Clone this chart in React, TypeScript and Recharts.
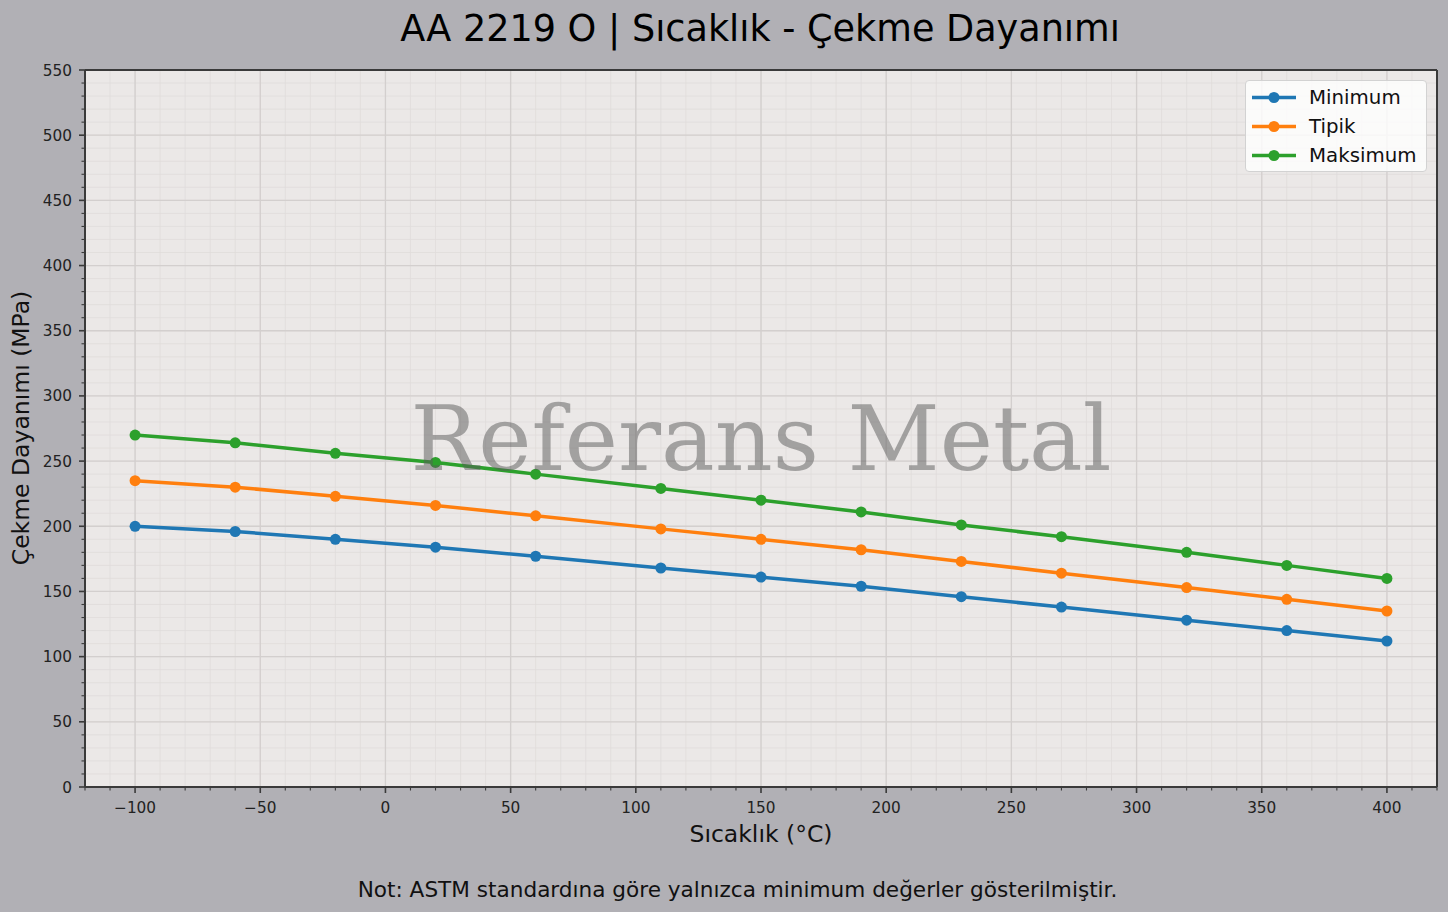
import React from 'react';
import { LineChart, Line, XAxis, YAxis, CartesianGrid, Legend } from 'recharts';

const temperatures = [-100, -60, -20, 20, 60, 110, 150, 190, 230, 270, 320, 360, 400];
const minimumValues = [200, 196, 190, 184, 177, 168, 161, 154, 146, 138, 128, 120, 112];
const typicalValues = [235, 230, 223, 216, 208, 198, 190, 182, 173, 164, 153, 144, 135];
const maximumValues = [270, 264, 256, 249, 240, 229, 220, 211, 201, 192, 180, 170, 160];

const xMajorTicks = [-100, -50, 0, 50, 100, 150, 200, 250, 300, 350, 400];
const xAllTicks = [-120, -110, -100, -90, -80, -70, -60, -50, -40, -30, -20, -10, 0, 10, 20, 30, 40, 50, 60, 70, 80, 90, 100, 110, 120, 130, 140, 150, 160, 170, 180, 190, 200, 210, 220, 230, 240, 250, 260, 270, 280, 290, 300, 310, 320, 330, 340, 350, 360, 370, 380, 390, 400, 410, 420];
const yMajorTicks = [0, 50, 100, 150, 200, 250, 300, 350, 400, 450, 500, 550];
const yAllTicks = [0, 10, 20, 30, 40, 50, 60, 70, 80, 90, 100, 110, 120, 130, 140, 150, 160, 170, 180, 190, 200, 210, 220, 230, 240, 250, 260, 270, 280, 290, 300, 310, 320, 330, 340, 350, 360, 370, 380, 390, 400, 410, 420, 430, 440, 450, 460, 470, 480, 490, 500, 510, 520, 530, 540, 550];

const seriesNames = ['Minimum', 'Tipik', 'Maksimum'];
const seriesColors = ['#1f77b4', '#ff7f0e', '#2ca02c'];

const data = temperatures.map((t, i) => ({
  t,
  min: minimumValues[i],
  typ: typicalValues[i],
  max: maximumValues[i],
}));

const FONT = '"DejaVu Sans", sans-serif';
const SPINE = '#3a3a3a';

const fmt = (v: number) => String(v).replace('-', '\u2212');

const XTick = (props: any) => {
  const { x, y, payload } = props;
  const v = payload.value;
  const major = v % 50 === 0;
  return (
    <g>
      <line x1={x} x2={x} y1={y} y2={y + (major ? 6 : 3.5)} stroke={SPINE} strokeWidth={major ? 1.6 : 1.1} />
      {major && (
        <text x={x} y={y + 25.5} textAnchor="middle" fontSize={15.3} fontFamily={FONT} fill="#222">
          {fmt(v)}
        </text>
      )}
    </g>
  );
};

const YTick = (props: any) => {
  const { x, y, payload } = props;
  const v = payload.value;
  const major = v % 50 === 0;
  return (
    <g>
      <line x1={x} x2={x - (major ? 6 : 3.5)} y1={y} y2={y} stroke={SPINE} strokeWidth={major ? 1.6 : 1.1} />
      {major && (
        <text x={x - 13} y={y + 5.5} textAnchor="end" fontSize={15.3} fontFamily={FONT} fill="#222">
          {fmt(v)}
        </text>
      )}
    </g>
  );
};

const LegendBox = (props: any) => {
  const payload = [...(props.payload || [])].sort(
    (a: any, b: any) => seriesNames.indexOf(a.value) - seriesNames.indexOf(b.value)
  );
  return (
    <div
      style={{
        width: 182,
        height: 92,
        boxSizing: 'border-box',
        padding: '2px 0',
        background: 'rgba(255,255,255,0.8)',
        border: '1px solid #d2d2d2',
        borderRadius: 4,
        fontFamily: FONT,
        fontSize: 19.8,
        color: '#111',
      }}
    >
      {payload.map((p: any) => (
        <div key={p.value} style={{ position: 'relative', height: 29 }}>
          <svg width={50} height={29} style={{ position: 'absolute', left: 5, top: 0 }}>
            <line x1={1} x2={45} y1={14.5} y2={14.5} stroke={p.color} strokeWidth={3.5} />
            <circle cx={23} cy={14.5} r={5.5} fill={p.color} />
          </svg>
          <span style={{ position: 'absolute', left: 63, top: 0, lineHeight: '29px', whiteSpace: 'nowrap' }}>{p.value}</span>
        </div>
      ))}
    </div>
  );
};

export default function App() {
  return (
    <div style={{ position: 'fixed', left: 0, top: 0, width: 1448, height: 912, background: '#b1b0b5', overflow: 'hidden' }}>
      <LineChart width={1448} height={912} data={data} margin={{ top: 69, right: 10, bottom: 124, left: 84 }}>
        <XAxis xAxisId="maj" dataKey="t" type="number" domain={[-120, 420]} ticks={xMajorTicks} hide />
        <YAxis yAxisId="maj" dataKey="max" type="number" domain={[0, 550]} ticks={yMajorTicks} hide />
        <CartesianGrid stroke="#e0dcdb" strokeWidth={0.8} fill="#ebe8e7" fillOpacity={1} />
        <CartesianGrid xAxisId="maj" yAxisId="maj" stroke="#d3cfce" strokeWidth={1.3} />
        <XAxis
          dataKey="t"
          type="number"
          domain={[-120, 420]}
          ticks={xAllTicks}
          interval={0}
          height={1}
          tickSize={0}
          tickMargin={0}
          tickLine={false}
          tick={<XTick />}
          axisLine={{ stroke: SPINE, strokeWidth: 2 }}
        />
        <YAxis
          type="number"
          domain={[0, 550]}
          ticks={yAllTicks}
          interval={0}
          width={1}
          tickSize={0}
          tickMargin={0}
          tickLine={false}
          tick={<YTick />}
          axisLine={{ stroke: SPINE, strokeWidth: 2 }}
        />
        <XAxis xAxisId="top" orientation="top" dataKey="t" type="number" domain={[-120, 420]} ticks={xMajorTicks} height={1} tick={false} tickLine={false} axisLine={{ stroke: SPINE, strokeWidth: 2 }} />
        <YAxis yAxisId="right" orientation="right" dataKey="max" type="number" domain={[0, 550]} ticks={yMajorTicks} width={1} tick={false} tickLine={false} axisLine={{ stroke: SPINE, strokeWidth: 2 }} />
        <Legend
          layout="horizontal"
          align="center"
          verticalAlign="middle"
          content={<LegendBox />}
          wrapperStyle={{ left: 1245, top: 80, right: 'auto', bottom: 'auto', width: 182, height: 92 }}
        />
        <Line name={seriesNames[0]} dataKey="min" stroke={seriesColors[0]} strokeWidth={3.5} dot={{ r: 5.5, fill: seriesColors[0], stroke: seriesColors[0], strokeWidth: 0 }} activeDot={false} isAnimationActive={false} />
        <Line name={seriesNames[1]} dataKey="typ" stroke={seriesColors[1]} strokeWidth={3.5} dot={{ r: 5.5, fill: seriesColors[1], stroke: seriesColors[1], strokeWidth: 0 }} activeDot={false} isAnimationActive={false} />
        <Line name={seriesNames[2]} dataKey="max" stroke={seriesColors[2]} strokeWidth={3.5} dot={{ r: 5.5, fill: seriesColors[2], stroke: seriesColors[2], strokeWidth: 0 }} activeDot={false} isAnimationActive={false} />
      </LineChart>

      <div style={{ position: 'absolute', left: 760, top: 11, transform: 'translateX(-50%)', fontFamily: FONT, fontSize: 36.6, lineHeight: '36.6px', whiteSpace: 'nowrap', color: '#000' }}>
        AA 2219 O | Sıcaklık - Çekme Dayanımı
      </div>
      <div style={{ position: 'absolute', left: 761, top: 823, transform: 'translateX(-50%)', fontFamily: FONT, fontSize: 23.5, lineHeight: '23.5px', whiteSpace: 'nowrap', color: '#111' }}>
        Sıcaklık (°C)
      </div>
      <div style={{ position: 'absolute', left: 22, top: 428, transform: 'translate(-50%, -50%) rotate(-90deg)', fontFamily: FONT, fontSize: 23.5, lineHeight: '23.5px', whiteSpace: 'nowrap', color: '#111' }}>
        Çekme Dayanımı (MPa)
      </div>
      <div style={{ position: 'absolute', left: 737.5, top: 879, transform: 'translateX(-50%)', fontFamily: FONT, fontSize: 21.6, lineHeight: '21.6px', whiteSpace: 'nowrap', color: '#111' }}>
        Not: ASTM standardına göre yalnızca minimum değerler gösterilmiştir.
      </div>
      <div style={{ position: 'absolute', left: 761, top: 394, transform: 'translateX(-50%)', fontFamily: '"DejaVu Serif", serif', fontSize: 90, lineHeight: '90px', whiteSpace: 'nowrap', color: 'rgba(90,90,90,0.5)', pointerEvents: 'none' }}>
        Referans Metal
      </div>
    </div>
  );
}
